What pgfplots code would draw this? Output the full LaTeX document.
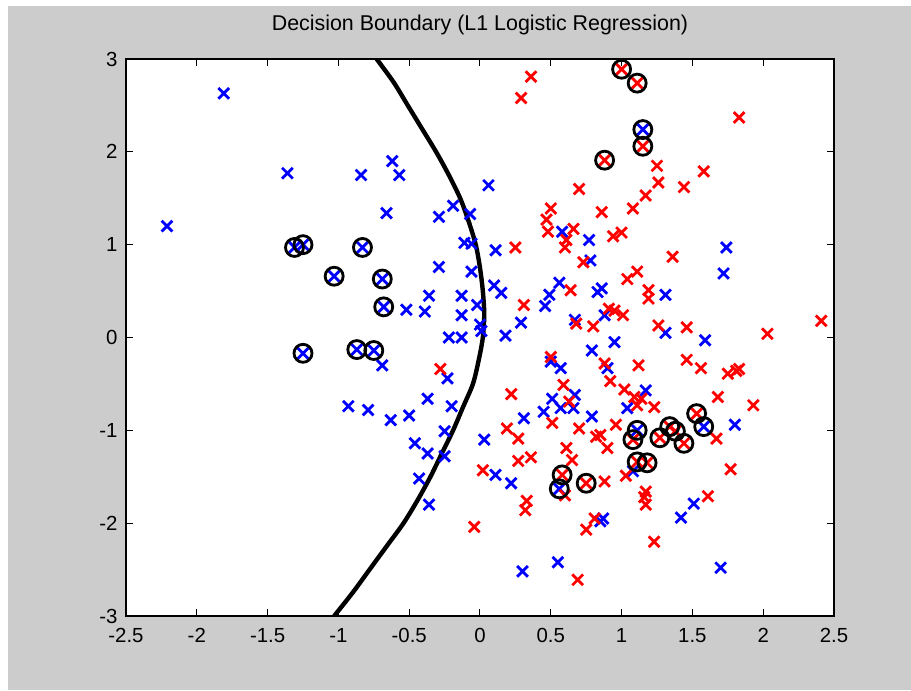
\documentclass[border=0pt]{standalone}
\usepackage{pgfplots}
\pgfplotsset{compat=1.18}
\usepackage{fontspec}
\setmainfont{Liberation Sans}
\definecolor{figgray}{RGB}{204,204,204}
\definecolor{mblue}{RGB}{0,0,255}
\definecolor{mred}{RGB}{255,0,0}
\begin{document}
\begin{tikzpicture}
\fill[white] (0pt,0pt) rectangle (455.5pt,345.5pt);
\fill[figgray] (4pt,0.5pt) rectangle (455.5pt,342.5pt);
\begin{axis}[
  at={(63pt,37.5pt)}, anchor=south west,
  scale only axis, width=354pt, height=278.5pt,
  xmin=-2.5, xmax=2.5, ymin=-3, ymax=3,
  xtick={-2.5,-2,-1.5,-1,-0.5,0,0.5,1,1.5,2,2.5},
  ytick={-3,-2,-1,0,1,2,3},
  tick align=inside, tick pos=both,
  xticklabel pos=bottom, yticklabel pos=left,
  major tick length=3.5pt,
  tick style={black, line width=0.5pt},
  axis line style={black, line width=0.6pt},
  axis background/.style={fill=white},
  /pgf/number format/assume math mode=true,
  tick label style={font=\fontsize{10.2}{12}\selectfont},
  xticklabel style={yshift=-2.7pt},
  yticklabel style={xshift=-0.7pt},
  title={Decision Boundary (L1 Logistic Regression)},
  title style={at={(0.5,1)}, anchor=base, yshift=8.5pt, font=\fontsize{10.7}{12}\selectfont},
]
% blue class
\addplot[only marks, mark=x, mark size=3.8pt, mblue, line width=1.4pt] coordinates {
(-1.81,2.63) (-2.21,1.20) (-1.36,1.77) (-0.84,1.75) (-0.62,1.90) (-0.57,1.75)
(-0.66,1.34) (-0.29,1.30) (-0.19,1.42) (-0.07,1.33) (0.06,1.64) (-0.11,1.02)
(-0.06,1.01) (0.11,0.94) (-0.29,0.76) (-0.06,0.71) (0.10,0.56) (0.15,0.48)
(-0.36,0.45) (-0.13,0.45) (-0.52,0.30) (-0.39,0.28) (-0.02,0.35) (-0.13,0.24)
(0.00,0.14) (0.01,0.07) (-0.22,0.00) (-0.13,0.00) (0.18,0.02) (0.29,0.16)
(0.46,0.34) (0.49,0.46) (0.56,0.59) (0.67,0.19) (0.78,0.83) (0.77,1.05)
(0.58,1.14) (0.79,-0.14) (0.50,-0.26) (0.57,-0.33) (-0.23,-0.44) (-0.37,-0.66)
(-0.20,-0.74) (-0.79,-0.78) (-0.50,-0.84) (-0.63,-0.89) (-0.69,-0.30) (-0.93,-0.74)
(0.31,-0.87) (0.51,-0.66) (0.67,-0.62) (0.57,-0.76) (0.66,-0.76) (0.45,-0.80)
(0.79,-0.85) (0.83,0.49) (-0.46,-1.14) (-0.37,-1.25) (-0.25,-1.28) (-0.25,-1.01)
(-0.43,-1.52) (-0.36,-1.80) (0.03,-1.10) (0.11,-1.48) (0.22,-1.57) (0.30,-2.52)
(0.55,-2.42) (0.85,-1.98) (0.87,-1.95) (1.74,0.97) (1.72,0.69) (0.86,0.53)
(1.31,0.46) (0.88,0.24) (1.31,0.05) (1.59,-0.03) (0.95,-0.05) (0.90,-0.33)
(1.17,-0.57) (1.04,-0.76) (1.80,-0.94) (1.08,-1.44) (1.51,-1.79) (1.42,-1.94)
(1.70,-2.48)
(-1.31,0.97) (-1.25,1.00) (-0.83,0.97) (-1.03,0.66) (-0.69,0.63) (-0.68,0.33)
(-1.25,-0.17) (-0.87,-0.13) (-0.75,-0.14) (1.15,2.24) (0.56,-1.63) (1.11,-1.00)
(1.58,-0.96)
};
% red class
\addplot[only marks, mark=x, mark size=3.8pt, mred, line width=1.4pt] coordinates {
(0.36,2.81) (0.29,2.58) (1.83,2.37) (0.70,1.60) (0.50,1.39) (0.47,1.27)
(0.48,1.14) (0.66,1.17) (0.61,1.05) (0.25,0.97) (0.60,0.97) (0.73,0.81)
(0.64,0.51) (0.31,0.35) (0.80,0.12) (0.68,0.15) (-0.28,-0.34) (0.50,-0.21)
(0.59,-0.51) (0.22,-0.61) (0.63,-0.69) (0.19,-0.98) (0.51,-0.92) (0.70,-0.98)
(0.86,1.35) (1.25,1.85) (1.58,1.79) (1.26,1.67) (1.44,1.62) (1.17,1.53)
(1.08,1.39) (0.94,1.09) (1.00,1.13) (1.36,0.87) (1.11,0.71) (1.04,0.63)
(1.19,0.51) (1.19,0.42) (0.91,0.31) (0.95,0.29) (1.01,0.24) (1.26,0.13)
(1.46,0.11) (2.03,0.04) (2.41,0.18) (1.46,-0.24) (1.56,-0.33) (1.12,-0.30)
(0.88,-0.28) (1.75,-0.39) (1.81,-0.36) (1.83,-0.34) (0.92,-0.47) (1.02,-0.56)
(1.09,-0.64) (1.14,-0.66) (1.11,-0.73) (1.23,-0.75) (1.68,-0.64) (1.93,-0.73)
(0.96,-0.94) (0.85,-1.05) (0.90,-1.19) (1.03,-1.49) (0.88,-1.55) (1.17,-1.66)
(1.16,-1.72) (1.17,-1.80) (1.61,-1.71) (1.77,-1.42) (1.67,-1.09) (1.23,-2.20)
(0.27,-1.09) (0.27,-1.33) (0.36,-1.29) (0.02,-1.43) (0.33,-1.76) (0.32,-1.86)
(-0.04,-2.04) (0.69,-2.61) (0.61,-1.19) (0.65,-1.32) (0.60,-1.70) (0.75,-2.07)
(0.81,-1.95) (0.82,-1.07)
(1.00,2.89) (1.11,2.74) (1.15,2.06) (0.88,1.91) (0.58,-1.48) (0.75,-1.57)
(1.08,-1.10) (1.27,-1.08) (1.34,-0.96) (1.38,-1.01) (1.44,-1.14) (1.53,-0.82)
(1.11,-1.34) (1.18,-1.35)
};
% circled points
\addplot[only marks, mark=o, mark size=4.5pt, black, line width=1.4pt] coordinates {
(-1.31,0.97) (-1.25,1.00) (-0.83,0.97) (-1.03,0.66) (-0.69,0.63) (-0.68,0.33)
(-1.25,-0.17) (-0.87,-0.13) (-0.75,-0.14) (1.15,2.24) (0.56,-1.63) (1.11,-1.00)
(1.58,-0.96)
(1.00,2.89) (1.11,2.74) (1.15,2.06) (0.88,1.91) (0.58,-1.48) (0.75,-1.57)
(1.08,-1.10) (1.27,-1.08) (1.34,-0.96) (1.38,-1.01) (1.44,-1.14) (1.53,-0.82)
(1.11,-1.34) (1.18,-1.35)
};
% decision boundary
\addplot[black, line width=2.2pt, smooth, no marks] coordinates {
(-0.73,3.0) (-0.61,2.75) (-0.51,2.5) (-0.41,2.25) (-0.31,2.0) (-0.22,1.75)
(-0.14,1.5) (-0.08,1.25) (-0.03,1.0) (0.00,0.75) (0.02,0.5) (0.03,0.25)
(0.02,0.0) (-0.01,-0.25) (-0.05,-0.5) (-0.12,-0.75) (-0.19,-1.0) (-0.27,-1.25)
(-0.35,-1.5) (-0.44,-1.75) (-0.54,-2.0) (-0.66,-2.25) (-0.78,-2.5) (-0.90,-2.75)
(-1.03,-3.0)
};
\end{axis}
\end{tikzpicture}
\end{document}
